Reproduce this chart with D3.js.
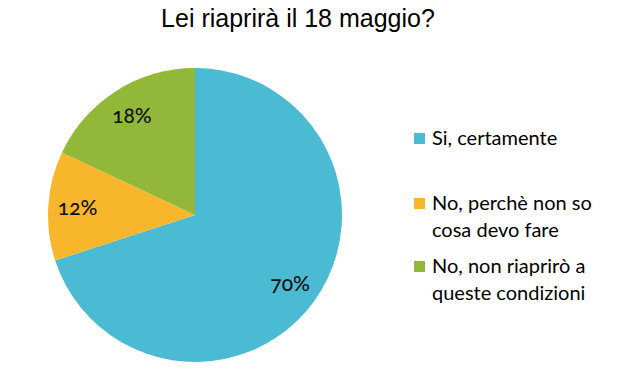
<!DOCTYPE html>
<meta charset="utf-8">
<script src="https://d3js.org/d3.v7.min.js"></script>
<style>
  body { margin: 0; background: #fff; }
</style>
<div id="my_dataviz"></div>
<script>

  // data
  var categories = ["Si, certamente", "No, perchè non so cosa devo fare", "No, non riaprirò a queste condizioni"];
  var legendLines = [["Si, certamente"], ["No, perchè non so", "cosa devo fare"], ["No, non riaprirò a", "queste condizioni"]];
  var values = [70, 12, 18];
  var colors = ["#4bbad3", "#f8b62d", "#92b83a"];
  var title = "Lei riaprirà il 18 maggio?";

  var width = 643, height = 370;
  var cx = 195, cy = 215, radius = 147;

  var svg = d3.select("#my_dataviz")
    .append("svg")
    .attr("width", width)
    .attr("height", height);

  // title
  svg.append("text")
    .attr("x", 298)
    .attr("y", 27)
    .attr("text-anchor", "middle")
    .style("font-family", "Liberation Sans, Arial, sans-serif")
    .style("font-size", "25px")
    .style("fill", "#000")
    .text(title);

  var pie = d3.pie().sort(null).value(function (d) { return d; });
  var arcs = pie(values);

  var arc = d3.arc().innerRadius(0).outerRadius(radius);
  var labelArc = d3.arc().innerRadius(radius * 0.8).outerRadius(radius * 0.8);

  var g = svg.append("g")
    .attr("transform", "translate(" + cx + "," + cy + ")");

  g.selectAll("path")
    .data(arcs)
    .enter()
    .append("path")
    .attr("d", arc)
    .style("fill", function (d, i) { return colors[i]; })
    .style("stroke", "none");

  // percentage labels
  g.selectAll("text.pct")
    .data(arcs)
    .enter()
    .append("text")
    .attr("class", "pct")
    .attr("transform", function (d, i) {
      var c = labelArc.centroid(d);
      return "translate(" + c[0] + "," + c[1] + ")";
    })
    .attr("text-anchor", "middle")
    .attr("dy", "0.35em")
    .style("font-family", "Lato, sans-serif")
    .style("font-size", "21px")
    .style("font-weight", "500")
    .style("font-feature-settings", "'onum' 1")
    .style("fill", "#111")
    .text(function (d, i) { return values[i] + "%"; });

  // legend
  var legendY = [145, 210, 273];
  var legend = svg.append("g");

  legendLines.forEach(function (lines, i) {
    legend.append("rect")
      .attr("x", 414)
      .attr("y", legendY[i] - 12)
      .attr("width", 11)
      .attr("height", 11)
      .style("fill", colors[i]);
    lines.forEach(function (line, j) {
      legend.append("text")
        .attr("x", 432)
        .attr("y", legendY[i] + j * 27)
        .style("font-family", "Lato, sans-serif")
        .style("font-size", "20px")
        .style("fill", "#000")
        .text(line);
    });
  });

</script>
